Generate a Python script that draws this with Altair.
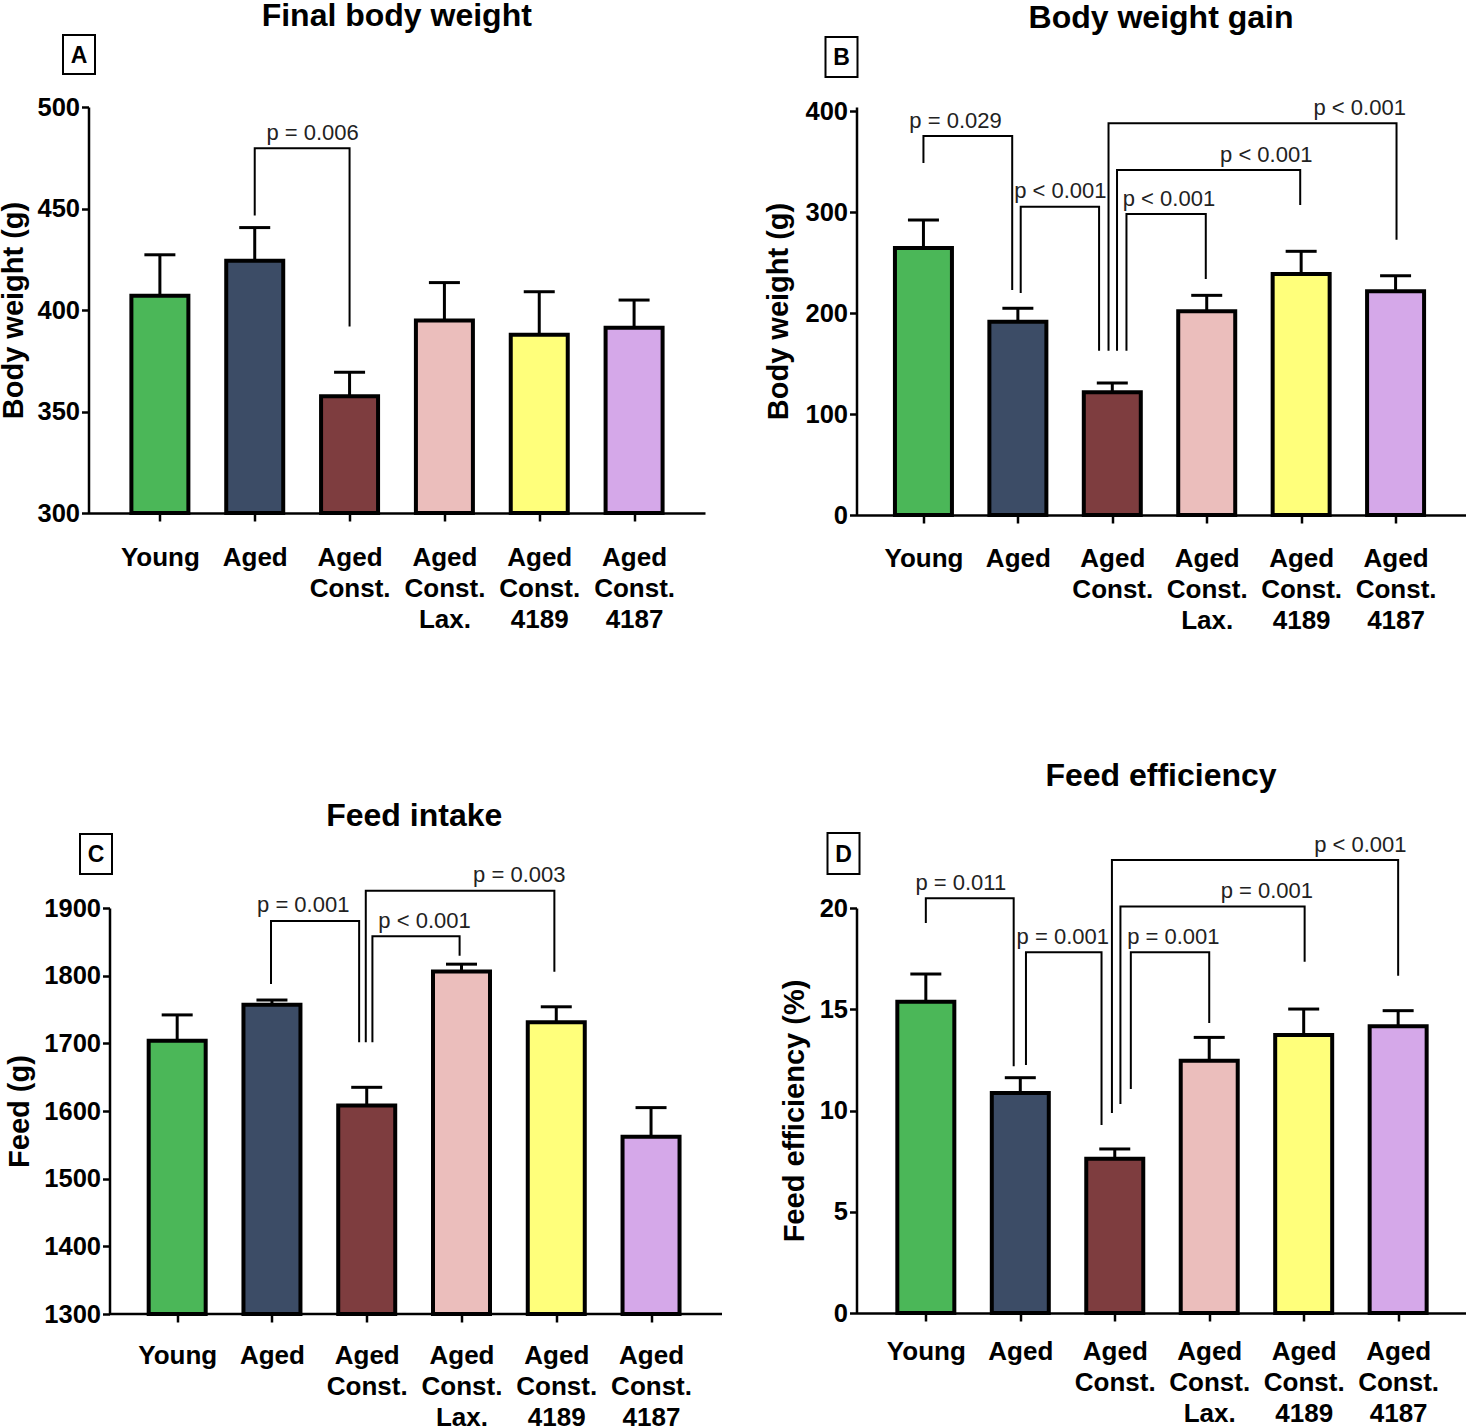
import json
import altair as alt
import pandas as pd

FONT = "Liberation Sans, Arial, sans-serif"

# ---------------- data ----------------
categories = ["Young", "Aged", "Aged Const.", "Aged Const. Lax.", "Aged Const. 4189", "Aged Const. 4187"]
tick_label_lines = [["Young"], ["Aged"], ["Aged", "Const."], ["Aged", "Const.", "Lax."],
                    ["Aged", "Const.", "4189"], ["Aged", "Const.", "4187"]]
bar_colors = ["#4BB758", "#3C4C66", "#7E3D3F", "#EBBEBC", "#FFFF7B", "#D5A8E9"]

# A  Final body weight
a_mean = [407.0, 424.3, 357.5, 394.8, 387.8, 391.3]
a_upper = [427.2, 440.6, 369.3, 413.5, 409.0, 404.9]
a_br_x1 = [1.0]
a_br_x2 = [2.0]
a_br_yl = [446.6]
a_br_top = [479.7]
a_br_yr = [391.9]
a_br_text = ["p = 0.006"]
a_br_tx = [1.61]

# B  Body weight gain
b_mean = [264.4, 191.4, 121.5, 201.7, 238.6, 221.5]
b_upper = [292.1, 204.7, 130.6, 217.5, 261.1, 236.9]
b_br_x1 = [0.0, 1.03, 2.15, 2.05, 1.96]
b_br_x2 = [0.94, 1.86, 2.99, 3.99, 5.01]
b_br_yl = [348.5, 219.8, 162.7, 162.7, 162.7]
b_br_top = [375.2, 305.2, 298.0, 341.6, 387.8]
b_br_yr = [222.8, 162.7, 233.7, 306.9, 272.6]
b_br_text = ["p = 0.029", "p < 0.001", "p < 0.001", "p < 0.001", "p < 0.001"]
b_br_tx = [0.34, 1.45, 2.60, 3.63, 4.62]

# C  Feed intake
c_mean = [1704, 1757, 1608, 1806, 1731, 1562]
c_upper = [1742, 1764, 1635, 1817, 1754, 1605]
c_br_x1 = [0.99, 2.06, 1.99]
c_br_x2 = [1.92, 2.98, 3.98]
c_br_yl = [1787.7, 1701.5, 1701.5]
c_br_top = [1880.8, 1858.2, 1925.6]
c_br_yr = [1701.5, 1829.5, 1805.9]
c_br_text = ["p = 0.001", "p < 0.001", "p = 0.003"]
c_br_tx = [1.33, 2.61, 3.61]

# D  Feed efficiency
d_mean = [15.37, 10.86, 7.62, 12.46, 13.73, 14.16]
d_upper = [16.74, 11.62, 8.10, 13.61, 15.01, 14.93]
d_br_x1 = [0.0, 1.06, 2.17, 2.06, 1.97]
d_br_x2 = [0.93, 1.86, 3.0, 4.01, 5.0]
d_br_yl = [19.26, 12.25, 11.06, 10.32, 9.88]
d_br_top = [20.48, 17.81, 17.81, 20.08, 22.37]
d_br_yr = [12.18, 9.28, 14.32, 17.35, 16.66]
d_br_text = ["p = 0.011", "p = 0.001", "p = 0.001", "p = 0.001", "p < 0.001"]
d_br_tx = [0.37, 1.45, 2.62, 3.61, 4.60]

label_expr = json.dumps(tick_label_lines) + "[datum.value]"


def panel(mean, upper, ymin, ymax, yticks, ytitle, xlo, xhi, W, H,
          bx1, bx2, byl, btop, byr, btext, btx,
          letter, box, title, title_offset, title_dx=0,
          yaxis_offset=0, ytitle_x=-69, xlabel_pad=44, own_baseline=False):
    bars_df = pd.DataFrame({"x": list(range(len(categories))), "cat": categories,
                            "y": mean, "upper": upper,
                            "base": [ymin] * len(categories)})
    xscale = alt.Scale(domain=[xlo, xhi], nice=False, zero=False)
    yscale = alt.Scale(domain=[ymin, ymax], nice=False, zero=False)

    x_axis = alt.Axis(values=list(range(len(categories))), labelExpr=label_expr, title=None,
                      grid=False, domain=not own_baseline, domainColor="black", domainWidth=2.5,
                      tickColor="black", tickWidth=2.5, tickSize=8,
                      labelFont=FONT, labelFontSize=26, labelFontWeight="bold", labelColor="black",
                      labelLineHeight=31, labelBaseline="alphabetic", labelPadding=xlabel_pad,
                      labelOverlap=False, labelFlush=False, labelAlign="center")
    y_axis = alt.Axis(values=yticks, format="d", title=ytitle, grid=False, offset=yaxis_offset,
                      domainColor="black", domainWidth=2.5, tickColor="black", tickWidth=2.5,
                      tickSize=7, labelFont=FONT, labelFontSize=25.5, labelFontWeight="bold",
                      labelColor="black", labelPadding=2, labelFlush=False,
                      titleFont=FONT, titleFontSize=29, titleFontWeight="bold", titleColor="black",
                      titleX=ytitle_x, titleBaseline="alphabetic")

    def X(field="x"):
        return alt.X(f"{field}:Q", scale=xscale, axis=x_axis)

    def Y(field="y"):
        return alt.Y(f"{field}:Q", scale=yscale, axis=y_axis)

    base = alt.Chart(bars_df)
    bars = base.mark_bar(size=57, stroke="black", strokeWidth=4).encode(
        x=X(), y=Y(), y2="base:Q",
        fill=alt.Fill("cat:N", scale=alt.Scale(domain=categories, range=bar_colors), legend=None))
    err = base.mark_rule(color="black", strokeWidth=3).encode(x=X(), y=Y(), y2="upper:Q")
    caps = base.mark_tick(orient="horizontal", size=31, thickness=3, color="black", opacity=1).encode(
        x=X(), y=Y("upper"))

    pts = []
    for i in range(len(bx1)):
        path = [(bx1[i], byl[i]), (bx1[i], btop[i]), (bx2[i], btop[i]), (bx2[i], byr[i])]
        for o, (px, py) in enumerate(path):
            pts.append({"bid": i, "o": o, "x": px, "y": py})
    br_df = pd.DataFrame(pts)
    brackets = alt.Chart(br_df).mark_line(color="black", strokeWidth=2, strokeJoin="miter").encode(
        x=X(), y=Y(), detail="bid:N", order="o:Q")

    lab_df = pd.DataFrame({"x": btx, "y": btop, "text": btext})
    labels = alt.Chart(lab_df).mark_text(font=FONT, fontSize=22, color="#222222",
                                         baseline="alphabetic", align="center", dy=-8.5).encode(
        x=X(), y=Y(), text="text:N")

    let_df = pd.DataFrame({"letter": [letter]})
    bx0, by0, bw, bh = box
    boxr = alt.Chart(let_df).mark_rect(fill="white", stroke="black", strokeWidth=2).encode(
        x=alt.value(bx0), x2=alt.value(bx0 + bw), y=alt.value(by0), y2=alt.value(by0 + bh))
    lett = alt.Chart(let_df).mark_text(font=FONT, fontSize=23, fontWeight="bold", color="black",
                                       baseline="middle", align="center").encode(
        x=alt.value(bx0 + bw / 2), y=alt.value(by0 + bh / 2 + 1), text="letter:N")

    layers = [bars, err, caps, brackets, labels, boxr, lett]
    if own_baseline:
        rule = alt.Chart(let_df).mark_rule(color="black", strokeWidth=2.5).encode(
            x=alt.value(-yaxis_offset), x2=alt.value(W), y=alt.value(H))
        layers.append(rule)

    return alt.layer(*layers).properties(
        width=W, height=H,
        title=alt.TitleParams(title, font=FONT, fontSize=32, fontWeight="bold", color="black",
                              anchor="middle", frame="group", offset=title_offset, dx=title_dx))


pA = panel(a_mean, a_upper, 300, 500, [300, 350, 400, 450, 500], "Body weight (g)",
           -0.700, 5.695, 616.5, 406,
           a_br_x1, a_br_x2, a_br_yl, a_br_top, a_br_yr, a_br_text, a_br_tx,
           "A", (-25.5, -72, 32, 39), "Final body weight", 1,
           ytitle_x=-66, xlabel_pad=44)
pB = panel(b_mean, b_upper, 0, 404, [0, 100, 200, 300, 400], "Body weight (g)",
           -0.656, 5.6875, 609, 408,
           b_br_x1, b_br_x2, b_br_yl, b_br_top, b_br_yr, b_br_text, b_br_tx,
           "B", (-31, -70, 32, 40), "Body weight gain", 1,
           ytitle_x=-69, xlabel_pad=43)
pC = panel(c_mean, c_upper, 1300, 1900, [1300, 1400, 1500, 1600, 1700, 1800, 1900], "Feed (g)",
           -0.883, 5.696, 633.5, 406,
           c_br_x1, c_br_x2, c_br_yl, c_br_top, c_br_yr, c_br_text, c_br_tx,
           "C", (-8.5, -74, 32, 40), "Feed intake", 0, title_dx=9,
           yaxis_offset=-21, ytitle_x=-81.5, xlabel_pad=41, own_baseline=True)
pD = panel(d_mean, d_upper, 0, 20, [0, 5, 10, 15, 20], "Feed efficiency (%)",
           -0.681, 5.660, 609, 405,
           d_br_x1, d_br_x2, d_br_yl, d_br_top, d_br_yr, d_br_text, d_br_tx,
           "D", (-29, -75, 32, 41), "Feed efficiency", 39,
           ytitle_x=-53, xlabel_pad=38.5)

chart = alt.concat(pA, pB, pC, pD, columns=2, spacing={"row": 393, "column": 134},
                   bounds="flush").properties(
    padding={"left": -0.5, "top": 0, "right": 2, "bottom": 2},
    background="white",
).configure_view(stroke=None)

chart.save("out.html", embed_options={"renderer": "svg", "actions": False})
